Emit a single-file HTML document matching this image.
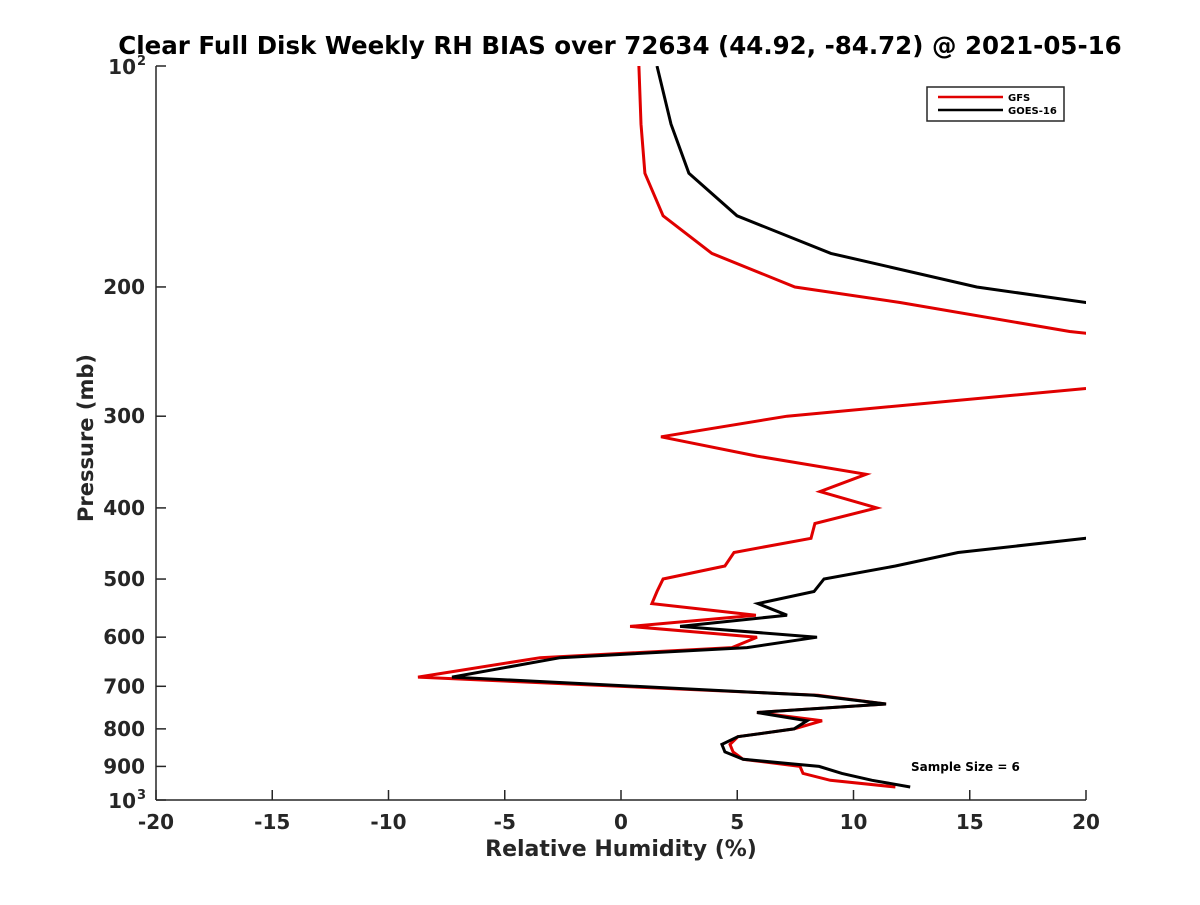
<!DOCTYPE html>
<html><head><meta charset="utf-8"><style>
body{margin:0;background:#fff}
svg text{font-family:"DejaVu Sans","Liberation Sans",sans-serif;font-weight:bold;fill:#262626}
</style></head><body>
<svg id="chart" width="1200" height="900" viewBox="0 0 1200 900" xmlns="http://www.w3.org/2000/svg">
<defs><clipPath id="plotclip"><rect x="156" y="66" width="930" height="734"/></clipPath></defs>
<text x="620" y="54" text-anchor="middle" font-size="24.5" style="fill:#000">Clear Full Disk Weekly RH BIAS over 72634 (44.92, -84.72) @ 2021-05-16</text>
<g id="axes"></g>
<g id="series" clip-path="url(#plotclip)"></g>
<text x="621" y="856" text-anchor="middle" font-size="22">Relative Humidity (%)</text>
<text transform="translate(93,438) rotate(-90)" text-anchor="middle" font-size="21">Pressure (mb)</text>
<text x="911" y="771" font-size="12" style="fill:#000">Sample Size = 6</text>
<g>
<rect x="927" y="87" width="137" height="34" fill="#fff" stroke="#262626" stroke-width="1.5"/>
<line x1="938" y1="97" x2="1003" y2="97" stroke="#e00000" stroke-width="2.5"/>
<text x="1008" y="101" font-size="10" style="fill:#000">GFS</text>
<line x1="938" y1="110" x2="1003" y2="110" stroke="#000" stroke-width="2.5"/>
<text x="1008" y="114" font-size="10" style="fill:#000">GOES-16</text>
</g>
</svg>
<script>
const pressures=[100,120,140,160,180,200,210,230,250,275,300,320,340,360,380,400,420,440,460,480,500,520,540,560,580,600,620,640,680,720,740,760,780,800,820,840,860,880,900,920,940,960];
const gfsValues=[0.77,0.86,1.03,1.81,3.91,7.48,12,19.3,30,20,7.14,1.72,5.85,10.54,8.56,11.0,8.34,8.17,4.86,4.47,1.81,1.55,1.33,5.8,0.39,5.85,4.77,-3.48,-8.73,8.47,11.4,5.85,8.65,7.44,5.03,4.69,4.82,5.25,7.7,7.83,9.0,11.8];
const goesValues=[1.55,2.15,2.92,4.99,9.03,15.3,20,25,30,30,30,30,30,30,30,30,30,20,14.5,11.8,8.73,8.3,5.89,7.14,2.54,8.43,5.42,-2.62,-7.27,8.3,11.4,5.85,8.0,7.44,5.03,4.34,4.47,5.25,8.52,9.5,10.8,12.44];
const xTicks=[-20,-15,-10,-5,0,5,10,15,20];
const yTicks=[200,300,400,500,600,700,800,900];
const NS='http://www.w3.org/2000/svg';
function xs(v){return 156+(v+20)/40*930;}
function ys(p){return 66+Math.log10(p/100)*734;}
const axes=document.getElementById('axes');
const series=document.getElementById('series');
function mk(t,a,parent){const e=document.createElementNS(NS,t);for(const k in a)e.setAttribute(k,a[k]);parent.appendChild(e);return e;}
const xl=mk('line',{x1:156,y1:800,x2:1086,y2:800,stroke:'#262626','stroke-width':1.5},axes);


const yl=mk('line',{x1:156,y1:66,x2:156,y2:800,stroke:'#262626','stroke-width':1.5},axes);


xTicks.forEach(v=>{
  const x=xs(v);
  const t=mk('line',{x1:x,y1:800,x2:x,y2:790,stroke:'#262626','stroke-width':1.5},axes);
  
  
  const l=mk('text',{x:x,y:829,'text-anchor':'middle','font-size':20},axes);
  l.textContent=String(v);
  
  
});
[100,1000].concat(yTicks).forEach(p=>{
  const y=ys(p);
  const t=mk('line',{x1:156,y1:y,x2:166,y2:y,stroke:'#262626','stroke-width':1.5},axes);
  
  
});
yTicks.forEach(p=>{
  const y=ys(p);
  const l=mk('text',{x:145,y:y+7,'text-anchor':'end','font-size':20},axes);
  l.textContent=String(p);
  
  
});
[[100,'2'],[1000,'3']].forEach(([p,e])=>{
  const y=ys(p);
  const l=mk('text',{x:136,y:y+8,'text-anchor':'end','font-size':20},axes);
  l.textContent='10';
  
  
  const s=mk('text',{x:137,y:y-1,'font-size':13},axes);
  s.textContent=e;
  
  
});
function drawLine(vals,color,name){
  const d=vals.map((v,i)=>(i?'L':'M')+xs(v).toFixed(1)+' '+ys(pressures[i]).toFixed(1)).join(' ');
  const p=mk('path',{d:d,fill:'none',stroke:color,'stroke-width':3,'stroke-linejoin':'miter'},series);
  
  
}
drawLine(gfsValues,'#e00000','gfs-line');
drawLine(goesValues,'#000','goes16-line');
</script>
</body></html>
